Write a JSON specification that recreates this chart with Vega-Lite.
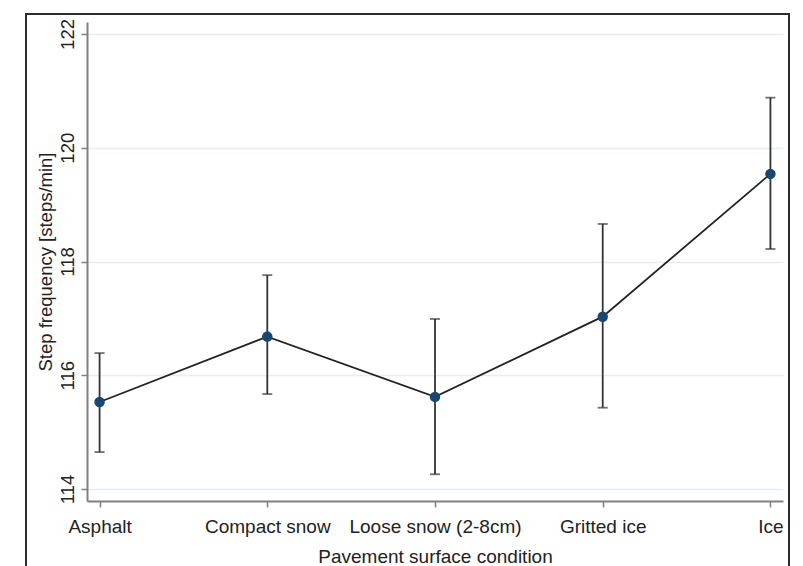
{
  "$schema": "https://vega.github.io/schema/vega-lite/v6.json",
  "width": 763,
  "height": 560,
  "autosize": {"type": "none"},
  "padding": {"left": 26, "top": 14, "right": 14, "bottom": 0},
  "background": "white",
  "config": {
    "font": "Liberation Sans",
    "view": {"stroke": "#2b2b2b", "strokeWidth": 2}
  },
  "data": {
    "values": [
      {"condition": "Asphalt", "mean": 115.53, "lo": 114.65, "hi": 116.39},
      {"condition": "Compact snow", "mean": 116.68, "lo": 115.67, "hi": 117.76},
      {"condition": "Loose snow (2-8cm)", "mean": 115.62, "lo": 114.26, "hi": 116.99},
      {"condition": "Gritted ice", "mean": 117.03, "lo": 115.43, "hi": 118.66},
      {"condition": "Ice", "mean": 119.54, "lo": 118.22, "hi": 120.88}
    ]
  },
  "encoding": {
    "x": {
      "field": "condition",
      "type": "nominal",
      "sort": null,
      "scale": {"type": "point", "range": [61, 757], "padding": 0.075},
      "axis": {
        "title": "Pavement surface condition",
        "offset": -73,
        "labelAngle": 0,
        "labelFontSize": 19,
        "labelColor": "#222",
        "labelPadding": 10,
        "titleFontSize": 19,
        "titleFontWeight": "normal",
        "titleColor": "#222",
        "titlePadding": 11,
        "domainColor": "#808080",
        "domainWidth": 2,
        "tickColor": "#808080",
        "tickWidth": 1.5,
        "tickSize": 6,
        "grid": false
      }
    }
  },
  "layer": [
    {
      "mark": {"type": "rule", "color": "#333333", "strokeWidth": 1.8},
      "encoding": {
        "y": {
          "field": "lo", "type": "quantitative",
          "scale": {"domain": [113.79, 122.21], "range": [487, 8], "nice": false, "zero": false},
          "axis": {"title": "Step frequency [steps/min]", "offset": -61, "values": [114, 116, 118, 120, 122], "labelAngle": -90, "labelFontSize": 18.5, "labelColor": "#222", "labelPadding": 4, "titleFontSize": 18.5, "titleFontWeight": "normal", "titleColor": "#222", "titlePadding": 3, "domainColor": "#808080", "domainWidth": 2, "tickColor": "#808080", "tickWidth": 1.5, "tickSize": 6, "grid": true, "gridColor": "#e4eff0", "gridWidth": 1.5}
        },
        "y2": {"field": "hi"}
      }
    },
    {
      "mark": {"type": "tick", "color": "#333333", "size": 10, "thickness": 1.8},
      "encoding": {
        "y": {
          "field": "lo", "type": "quantitative",
          "scale": {"domain": [113.79, 122.21], "range": [487, 8], "nice": false, "zero": false},
          "axis": {"title": "Step frequency [steps/min]", "offset": -61, "values": [114, 116, 118, 120, 122], "labelAngle": -90, "labelFontSize": 18.5, "labelColor": "#222", "labelPadding": 4, "titleFontSize": 18.5, "titleFontWeight": "normal", "titleColor": "#222", "titlePadding": 3, "domainColor": "#808080", "domainWidth": 2, "tickColor": "#808080", "tickWidth": 1.5, "tickSize": 6, "grid": true, "gridColor": "#e4eff0", "gridWidth": 1.5}
        }
      }
    },
    {
      "mark": {"type": "tick", "color": "#333333", "size": 10, "thickness": 1.8},
      "encoding": {
        "y": {
          "field": "hi", "type": "quantitative",
          "scale": {"domain": [113.79, 122.21], "range": [487, 8], "nice": false, "zero": false},
          "axis": {"title": "Step frequency [steps/min]", "offset": -61, "values": [114, 116, 118, 120, 122], "labelAngle": -90, "labelFontSize": 18.5, "labelColor": "#222", "labelPadding": 4, "titleFontSize": 18.5, "titleFontWeight": "normal", "titleColor": "#222", "titlePadding": 3, "domainColor": "#808080", "domainWidth": 2, "tickColor": "#808080", "tickWidth": 1.5, "tickSize": 6, "grid": true, "gridColor": "#e4eff0", "gridWidth": 1.5}
        }
      }
    },
    {
      "mark": {"type": "line", "color": "#222222", "strokeWidth": 1.8},
      "encoding": {
        "y": {
          "field": "mean", "type": "quantitative",
          "scale": {"domain": [113.79, 122.21], "range": [487, 8], "nice": false, "zero": false},
          "axis": {"title": "Step frequency [steps/min]", "offset": -61, "values": [114, 116, 118, 120, 122], "labelAngle": -90, "labelFontSize": 18.5, "labelColor": "#222", "labelPadding": 4, "titleFontSize": 18.5, "titleFontWeight": "normal", "titleColor": "#222", "titlePadding": 3, "domainColor": "#808080", "domainWidth": 2, "tickColor": "#808080", "tickWidth": 1.5, "tickSize": 6, "grid": true, "gridColor": "#e4eff0", "gridWidth": 1.5}
        }
      }
    },
    {
      "mark": {"type": "point", "filled": true, "color": "#1a476f", "opacity": 1, "size": 110},
      "encoding": {
        "y": {
          "field": "mean", "type": "quantitative",
          "scale": {"domain": [113.79, 122.21], "range": [487, 8], "nice": false, "zero": false},
          "axis": {"title": "Step frequency [steps/min]", "offset": -61, "values": [114, 116, 118, 120, 122], "labelAngle": -90, "labelFontSize": 18.5, "labelColor": "#222", "labelPadding": 4, "titleFontSize": 18.5, "titleFontWeight": "normal", "titleColor": "#222", "titlePadding": 3, "domainColor": "#808080", "domainWidth": 2, "tickColor": "#808080", "tickWidth": 1.5, "tickSize": 6, "grid": true, "gridColor": "#e4eff0", "gridWidth": 1.5}
        }
      }
    }
  ]
}
